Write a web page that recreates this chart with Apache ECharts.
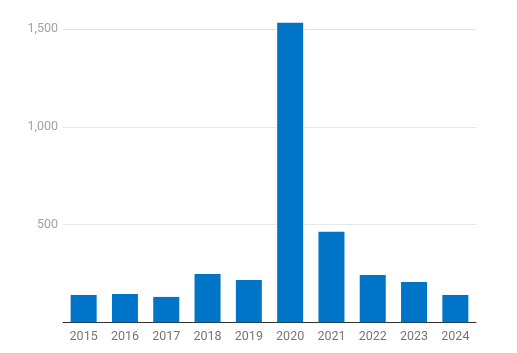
<!DOCTYPE html>
<html>
<head>
<meta charset="utf-8">
<script src="https://cdn.jsdelivr.net/npm/echarts@6/dist/echarts.min.js"></script>
<style>
  html, body { margin: 0; padding: 0; background: #fff; }
  #chart { width: 517px; height: 353px; }
</style>
</head>
<body>
<div id="chart"></div>
<script>
const years = ["2015", "2016", "2017", "2018", "2019", "2020", "2021", "2022", "2023", "2024"];
const values = [140, 145, 130, 247, 216, 1533, 464, 242, 206, 140];

const chart = echarts.init(document.getElementById("chart"), null, { renderer: "canvas" });

chart.setOption({
  animation: false,
  backgroundColor: "#ffffff",
  grid: { left: 63, right: 41, top: 29.3, bottom: 30.7, containLabel: false },
  xAxis: {
    type: "category",
    data: years,
    axisTick: { show: false },
    axisLine: { lineStyle: { color: "#333333", width: 1 } },
    axisLabel: {
      color: "#757575",
      fontFamily: "Roboto, sans-serif",
      fontSize: 12.5,
      margin: 8,
    },
  },
  yAxis: {
    type: "value",
    min: 0,
    max: 1500,
    interval: 500,
    axisLine: { show: false },
    axisTick: { show: false },
    splitLine: { lineStyle: { color: "#e6e6e6", width: 1 } },
    axisLabel: {
      color: "#a3a3a3",
      fontFamily: "Roboto, sans-serif",
      fontSize: 12.5,
      margin: 5,
      formatter: (v) => (v === 0 ? "" : v.toLocaleString("en-US")),
    },
  },
  series: [
    {
      type: "bar",
      data: values,
      barWidth: "63%",
      clip: false,
      itemStyle: { color: "#0074c7" },
    },
  ],
});
</script>
</body>
</html>
